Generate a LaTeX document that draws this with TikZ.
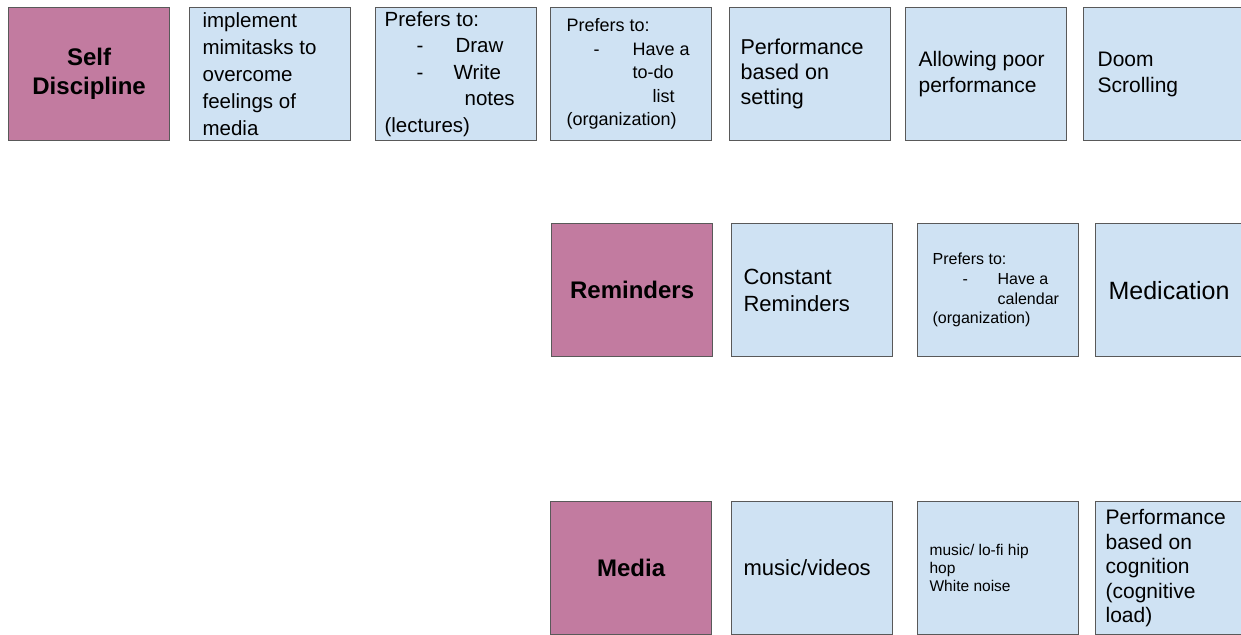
\documentclass[tikz,border=0pt]{standalone}
\usepackage{fontspec}
\setmainfont{Liberation Sans}
\definecolor{headpink}{HTML}{C27BA0}
\definecolor{noteblue}{HTML}{CFE2F3}
\definecolor{cardline}{HTML}{595959}
\newcommand{\notetext}[2][12pt]{\hspace*{#1}\parbox[c][133pt][c]{\dimexpr161pt-#1\relax}{\raggedright #2}}
\begin{document}
\begin{tikzpicture}[x=1pt,y=-1pt,
  card/.style={draw=cardline,line width=1.2pt,minimum width=161pt,minimum height=133pt,inner sep=0pt,anchor=north west},
  head/.style={card,fill=headpink,align=center,font=\bfseries\fontsize{24}{29}\selectfont},
  note/.style={card,fill=noteblue,font=\fontsize{21}{26}\selectfont}]
\useasboundingbox (0,0) rectangle (1241,634);
\clip (0,0) rectangle (1241,634);
\node[head] (selfdisc) at (8,7) {Self\\Discipline};
\node[note,font=\fontsize{20.5}{27}\selectfont] (minitasks) at (189,7) {\notetext[13pt]{implement\\mimitasks to\\overcome\\feelings of\\media}};
\node[note,font=\fontsize{20.5}{26.5}\selectfont] (drawnotes) at (375,7) {\notetext[9pt]{Prefers to:\\ \hspace*{32pt}\makebox[39pt][l]{-}Draw\\ \hspace*{32pt}\makebox[37pt][l]{-}Write\\ \hspace*{80pt}notes\\ (lectures)}};
\node[note,font=\fontsize{18}{23.5}\selectfont] (todolist) at (550,7) {\notetext[16pt]{Prefers to:\\ \hspace*{27pt}\makebox[39pt][l]{-}Have a\\ \hspace*{66pt}to-do\\ \hspace*{86pt}list\\ (organization)}};
\node[note,font=\fontsize{21.5}{25}\selectfont] (perfsetting) at (729,7) {\notetext[11pt]{Performance\\based on\\setting}};
\node[note] (poorperf) at (905,7) {\notetext[13pt]{Allowing poor\\performance}};
\node[note] (doomscroll) at (1083,7) {\notetext[14pt]{Doom\\Scrolling}};

\node[head] (reminders) at (551,223) {Reminders};
\node[note,font=\fontsize{22}{27}\selectfont] (constrem) at (731,223) {\notetext{Constant\\Reminders}};
\node[note,font=\fontsize{16}{19.7}\selectfont] (calendar) at (917,223) {\notetext[15pt]{Prefers to:\\ \hspace*{30pt}\makebox[35pt][l]{-}Have a\\ \hspace*{65pt}calendar\\ (organization)}};
\node[note,font=\fontsize{25}{30}\selectfont] (medication) at (1095,223) {\notetext[13pt]{Medication}};

\node[head] (media) at (550,501) {Media};
\node[note,font=\fontsize{22}{27}\selectfont] (musicvid) at (731,501) {\notetext{music/videos}};
\node[note,font=\fontsize{15.5}{18}\selectfont] (lofi) at (917,501) {\notetext{music/ lo-fi hip\\hop\\White noise}};
\node[note,font=\fontsize{21}{24.5}\selectfont] (perfcog) at (1095,501) {\notetext[10pt]{Performance\\based on\\cognition\\(cognitive\\load)}};
\end{tikzpicture}
\end{document}
